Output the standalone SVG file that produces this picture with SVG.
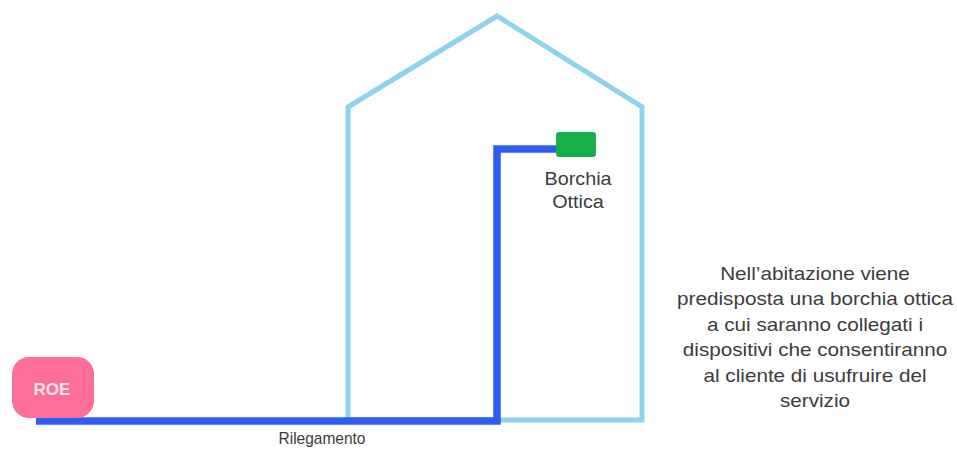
<svg xmlns="http://www.w3.org/2000/svg" width="957" height="450" viewBox="0 0 957 450">
<style>
.t{font-family:"Liberation Sans",Arial,sans-serif;fill:#3c3c3c;text-anchor:middle}
</style>
<rect width="957" height="450" fill="#fff"/>
<g id="house">
<polygon points="348,420 348,107 497,16 642,107 642,420" fill="none" stroke="#8fd2ee" stroke-width="5" stroke-linejoin="miter"/>
</g>
<g id="connectors">
<polyline points="36,421 497,421 497,149 560,149" fill="none" stroke="#2f5cf2" stroke-width="7.5"/>
</g>
<g id="roe">
<rect x="12" y="357" width="82" height="61" rx="17" fill="#fd6e99"/>
<text x="52" y="395" font-family="Liberation Sans,Arial,sans-serif" font-weight="bold" font-size="17" fill="#fde6ee" text-anchor="middle">ROE</text>
</g>
<g id="borchia">
<rect x="556" y="132" width="40" height="25" rx="3" fill="#16b04b"/>
<g transform="translate(578,0) scale(1.1,1)">
<text class="t" font-size="18" x="0" y="185">Borchia</text>
<text class="t" font-size="18" x="0" y="208">Ottica</text>
</g>
</g>
<g id="desc" transform="translate(815,0) scale(1.15,1)">
<text class="t" font-size="18" x="0" y="280">Nell’abitazione viene</text>
<text class="t" font-size="18" x="0" y="305">predisposta una borchia ottica</text>
<text class="t" font-size="18" x="0" y="331">a cui saranno collegati i</text>
<text class="t" font-size="18" x="0" y="356">dispositivi che consentiranno</text>
<text class="t" font-size="18" x="0" y="382">al cliente di usufruire del</text>
<text class="t" font-size="18" x="0" y="407">servizio</text>
</g>
<g id="rilegamento">
<text class="t" font-size="17" x="322" y="444" textLength="87" lengthAdjust="spacingAndGlyphs">Rilegamento</text>
</g>
</svg>
